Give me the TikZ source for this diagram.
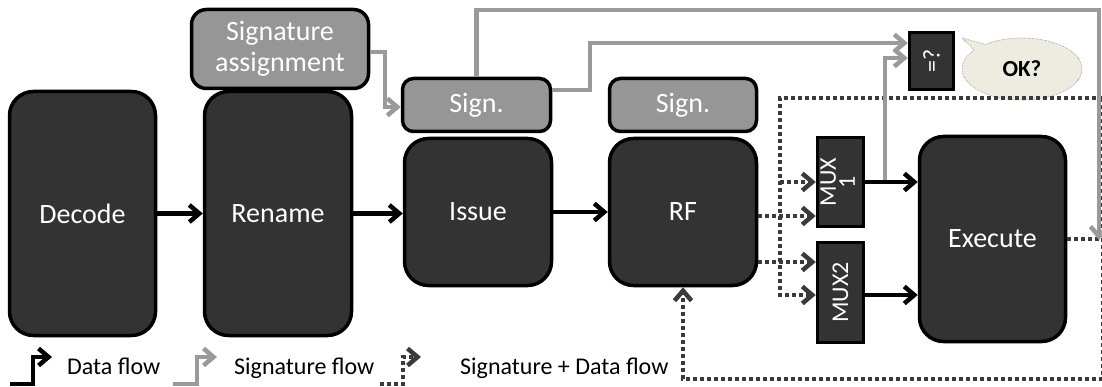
\documentclass[tikz,border=0pt]{standalone}
\usepackage{fontspec}
\setmainfont{Carlito}
\usetikzlibrary{arrows.meta,shapes.callouts,calc}

\definecolor{boxdark}{HTML}{333333}
\definecolor{boxgray}{HTML}{969696}
\definecolor{siggray}{HTML}{9A9A9A}
\definecolor{dotgray}{HTML}{3A3A3A}
\definecolor{okfill}{HTML}{EEECE1}

\begin{document}
\begin{tikzpicture}[x=1pt,y=-1pt,
  stage/.style={draw=black,line width=3.5pt,fill=boxdark,rounded corners=24pt,
    text=white,font=\fontsize{28}{32}\selectfont,inner sep=0pt},
  sigbox/.style={draw=black,line width=3.5pt,fill=boxgray,rounded corners=11pt,
    text=white,font=\fontsize{28}{31}\selectfont,inner sep=0pt,align=center},
  muxbox/.style={draw=black,line width=3.5pt,fill=boxdark,text=white,
    font=\fontsize{24}{24}\selectfont,inner sep=0pt,align=center},
  tip/.style={-{Straight Barb[length=10pt,width=17pt]}},
  dataflow/.style={draw=black,line width=4.5pt,tip},
  sigflow/.style={draw=siggray,line width=4.5pt},
  bothflow/.style={draw=dotgray,line width=4.5pt,dash pattern=on 4pt off 3pt},
  legendtext/.style={anchor=base west,inner sep=0pt,font=\fontsize{24}{24}\selectfont},
]
\useasboundingbox (0,0) rectangle (1102,387);
\clip (0,0) rectangle (1102,387);

% pipeline stages
\node[stage,minimum width=146pt,minimum height=244pt] (decode) at (82.5,213.5) {Decode};
\node[stage,minimum width=147pt,minimum height=244pt] (rename) at (278,213.5) {Rename};
\node[sigbox,minimum width=177pt,minimum height=79pt,rounded corners=15pt] (sa) at (280,49) {Signature\\assignment};
\node[sigbox,minimum width=148pt,minimum height=53pt] (sign1) at (476.5,105) {Sign.};
\node[stage,minimum width=147pt,minimum height=147pt] (issue) at (478,212) {Issue};
\node[sigbox,minimum width=147pt,minimum height=53pt] (sign2) at (683,105) {Sign.};
\node[stage,minimum width=147pt,minimum height=147pt] (rf) at (683,212) {RF};
\node[muxbox,minimum width=46pt,minimum height=89pt] (mux1) at (840.5,182) {\rotatebox{90}{\begin{tabular}{@{}c@{}}MUX\\[-5pt]1\end{tabular}}};
\node[muxbox,minimum width=46pt,minimum height=100pt] (mux2) at (840.5,292.5) {\rotatebox{90}{MUX2}};
\node[stage,minimum width=146pt,minimum height=205pt] (ex) at (992.5,239) {Execute};
\node[muxbox,minimum width=44pt,minimum height=57pt] (eq) at (931.5,61) {\rotatebox{90}{=?}};
\node[ellipse callout,fill=okfill,draw=gray,line width=0.6pt,densely dotted,
  minimum width=120pt,minimum height=62pt,inner sep=0pt,
  callout absolute pointer={(962,38)},
  font=\bfseries\fontsize{23}{23}\selectfont] (ok) at (1022,69) {OK?};

% junction points of the feedback and signature paths
\coordinate (rTop) at (1103,98);
\coordinate (rBot) at (1103,379);
\coordinate (lTop) at (780,98);
\coordinate (k1) at (385,52);
\coordinate (k2) at (590,45);
\coordinate (topR) at (1099,10);
\coordinate (rEnd) at (1099,240);
\coordinate (m1tap) at (885,182);

% signature + data flow
\draw[bothflow] (ex.east) -- (ex.east -| rTop);
\draw[bothflow] (rTop) -- (rBot);
\draw[bothflow,tip] (rTop) -- (lTop) |- ([yshift=-2.5pt]mux2.west);
\draw[bothflow,tip] (lTop |- mux1.west) -- (mux1.west);
\draw[bothflow,tip] (rf.east |- 0,216) -- ([yshift=-34pt]mux1.west);
\draw[bothflow,tip] (rf.east |- 0,262) -- ([yshift=30.5pt]mux2.west);
\draw[bothflow,tip] (rBot) -| (rf.south);

% signature flow
\draw[sigflow,tip] (sa.east |- k1) -- (k1) |- ([yshift=-2pt]sign1.west);
\draw[sigflow,tip] (sign1.north) |- (topR) -- (rEnd);
\draw[sigflow,tip] ([yshift=15pt]sign1.east) -| (k2) |- ([yshift=18pt]eq.west);
\draw[sigflow,tip] (m1tap) |- ([yshift=3pt]eq.west);

% data flow
\draw[dataflow] (decode.east) -- (rename.west);
\draw[dataflow] (rename.east) -- (rename.east -| issue.west);
\draw[dataflow] (issue.east) -- (issue.east -| rf.west);
\draw[dataflow] (mux1.east) -- (mux1.east -| ex.west);
\draw[dataflow] ([yshift=-2.5pt]mux2.east) -- ([yshift=-2.5pt]mux2.east -| ex.west);

% legend
\coordinate (lg1) at (10,384);
\coordinate (lg2) at (173,384);
\coordinate (lg3) at (380,384);
\draw[dataflow] (lg1) -- ++(23,0) -- ++(0,-27) -- ++(19,0);
\draw[sigflow,tip] (lg2) -- ++(24,0) -- ++(0,-27) -- ++(20,0);
\draw[bothflow,tip] (lg3) -- ++(23,0) -- ++(0,-27) -- ++(18,0);
\node[legendtext] (t1) at (67,374) {Data flow};
\node[legendtext] (t2) at (234,374) {Signature flow};
\node[legendtext] (t3) at (460,374) {Signature + Data flow};
\end{tikzpicture}
\end{document}
